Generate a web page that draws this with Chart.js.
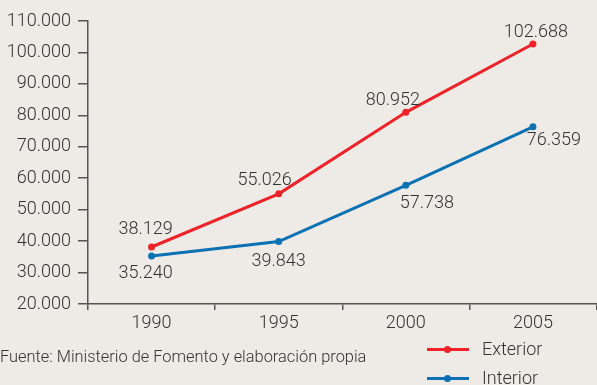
<!DOCTYPE html>
<html>
<head>
<meta charset="utf-8">
<script src="https://cdn.jsdelivr.net/npm/chart.js@4/dist/chart.umd.min.js"></script>
<style>
  html, body { margin: 0; padding: 0; background: #eeebe6; overflow: hidden; }
  body { width: 597px; height: 385px; position: relative; font-family: Roboto, "Liberation Sans", sans-serif; font-weight: 300; color: #333333; }
  #wrap { position: absolute; left: 0; top: 0; width: 600px; height: 385px; }
  #source { position: absolute; left: 0; top: 347px; font-size: 16.4px; white-space: nowrap; }
  #legend { position: absolute; left: 427px; top: 338px; font-size: 18px; }
  .item { position: relative; height: 29px; line-height: 22px; padding-left: 55px; }
  .swatch { position: absolute; left: 0; top: 10px; width: 42px; height: 3px; }
  .swatch::after { content: ""; position: absolute; left: 17px; top: -2px; width: 7px; height: 7px; border-radius: 50%; background: inherit; }
</style>
</head>
<body>
<div id="wrap"><canvas id="chart" width="600" height="385"></canvas></div>
<div id="source">Fuente: Ministerio de Fomento y elaboración propia</div>
<div id="legend"></div>
<script>
// Years on the horizontal axis
const years = ['1990', '1995', '2000', '2005'];
// Series values
const exterior = [38129, 55026, 80952, 102688];
const interior = [35240, 39843, 57738, 76359];
// Vertical axis range
const yMin = 20000;
const yMax = 110000;
const yStep = 10000;

const RED = '#ee2229';
const BLUE = '#0a71b3';
const TEXT = '#333333';
const AXIS = '#555555';
const FONT = 'Roboto, "Liberation Sans", sans-serif';

// Label placement relative to each point (dx, dy in px)
const labelOffsets = [
  [[-6, -17], [-14, -13], [-13, -12], [3, -11]],
  [[-6, 17], [0, 20], [21, 18], [21, 14]]
];

function fmt(v) {
  return String(Math.round(v)).replace(/\B(?=(\d{3})+(?!\d))/g, '.');
}

const valueLabels = {
  id: 'valueLabels',
  afterDatasetsDraw(chart) {
    const ctx = chart.ctx;
    ctx.save();
    ctx.font = '300 18px ' + FONT;
    ctx.fillStyle = TEXT;
    ctx.textAlign = 'center';
    ctx.textBaseline = 'middle';
    chart.data.datasets.forEach((ds, di) => {
      const meta = chart.getDatasetMeta(di);
      meta.data.forEach((pt, i) => {
        const off = labelOffsets[di][i];
        ctx.fillText(fmt(ds.data[i]), pt.x + off[0], pt.y + off[1]);
      });
    });
    ctx.restore();
  }
};

const chart = new Chart(document.getElementById('chart'), {
  type: 'line',
  data: {
    labels: years,
    datasets: [
      { label: 'Exterior', data: exterior, borderColor: RED, backgroundColor: RED,
        pointBackgroundColor: RED, pointBorderColor: RED },
      { label: 'Interior', data: interior, borderColor: BLUE, backgroundColor: BLUE,
        pointBackgroundColor: BLUE, pointBorderColor: BLUE }
    ]
  },
  options: {
    responsive: false,
    animation: false,
    events: [],
    layout: { padding: { top: 21, right: 0, bottom: 46, left: 0 } },
    elements: {
      line: { borderWidth: 3, tension: 0 },
      point: { radius: 3.5, borderWidth: 0, hoverRadius: 3.5 }
    },
    plugins: { legend: { display: false }, tooltip: { enabled: false } },
    scales: {
      x: {
        offset: true,
        grid: { offset: true, drawOnChartArea: false, drawTicks: true, tickLength: 6, color: AXIS, lineWidth: 1.5 },
        border: { display: true, color: AXIS, width: 1.5 },
        ticks: { color: TEXT, padding: 3, font: { family: FONT, size: 18, weight: '300' } },
        afterFit(scale) { scale.height = 35; }
      },
      y: {
        min: yMin,
        max: yMax,
        grid: { drawOnChartArea: false, drawTicks: true, tickLength: 10, color: AXIS, lineWidth: 1.5 },
        border: { display: true, color: AXIS, width: 1.5 },
        ticks: { stepSize: yStep, color: TEXT, padding: 7, callback: v => fmt(v),
          font: { family: FONT, size: 18, weight: '300' } },
        afterFit(scale) { scale.width = 88; }
      }
    }
  },
  plugins: [valueLabels]
});

// Legend entries built from the datasets
const legend = document.getElementById('legend');
chart.data.datasets.forEach(ds => {
  const item = document.createElement('div');
  item.className = 'item';
  const sw = document.createElement('span');
  sw.className = 'swatch';
  sw.style.background = ds.borderColor;
  item.appendChild(sw);
  item.appendChild(document.createTextNode(ds.label));
  legend.appendChild(item);
});
</script>
</body>
</html>
